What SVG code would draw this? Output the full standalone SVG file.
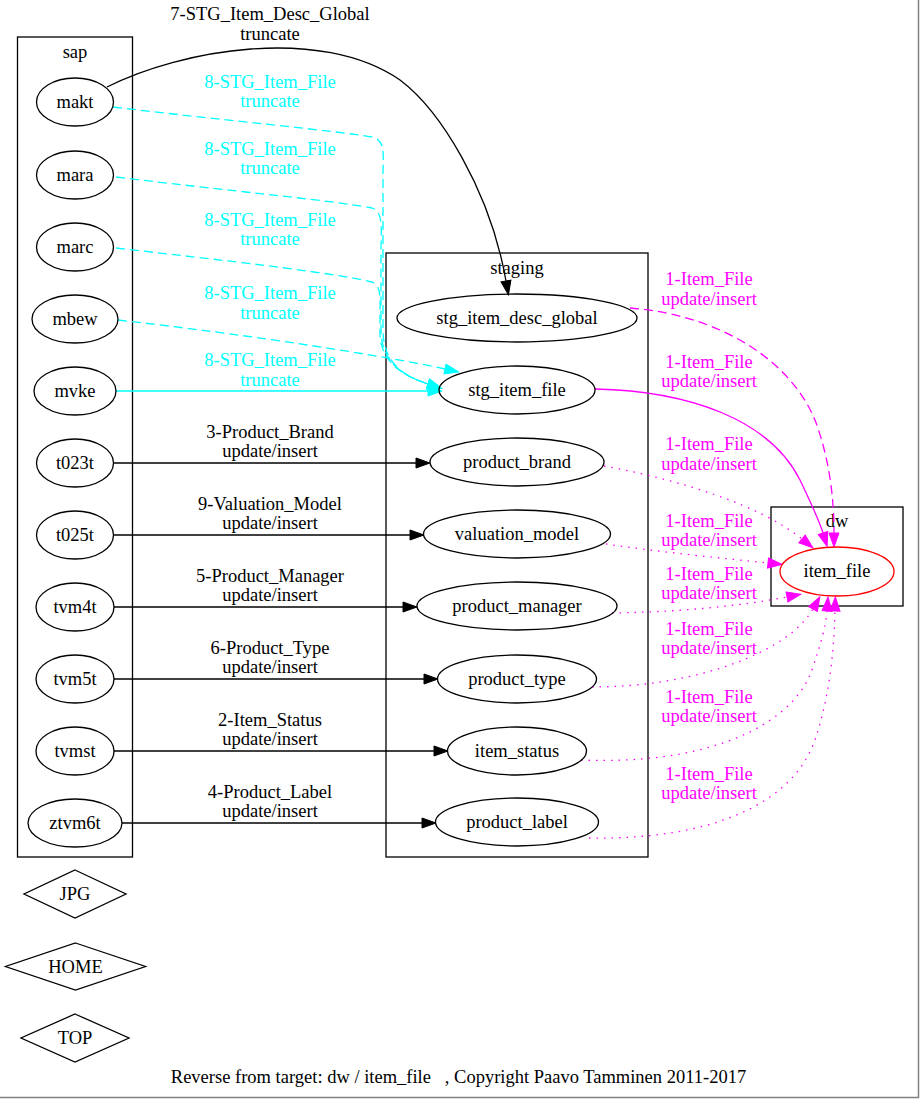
<svg xmlns="http://www.w3.org/2000/svg" width="920" height="1099" viewBox="0 0 920 1099">
<style>
text{font-family:"Liberation Serif","Times New Roman",serif;font-size:18.5px;text-anchor:middle;fill:#000}
.n{fill:none;stroke:#000;stroke-width:1.3}
.cl{fill:none;stroke:#000;stroke-width:1.3}
.e{fill:none;stroke-width:1.3}
.k{stroke:#000}
.c{stroke:#00ffff}
.m{stroke:#ff00ff}
.dash{stroke-dasharray:9,5}
.dot{stroke-dasharray:1.5,6}
.tc{fill:#00ffff}
.tm{fill:#ff00ff}
</style>
<defs>
<marker id="ak" markerUnits="userSpaceOnUse" markerWidth="14" markerHeight="10" refX="0" refY="5" orient="auto" viewBox="0 0 14 10" overflow="visible"><path d="M0,0 L14,5 L0,10 z" fill="#000" stroke="#000" stroke-width="1"/></marker>
<marker id="ac" markerUnits="userSpaceOnUse" markerWidth="14" markerHeight="10" refX="0" refY="5" orient="auto" viewBox="0 0 14 10" overflow="visible"><path d="M0,0 L14,5 L0,10 z" fill="#00ffff" stroke="#00ffff" stroke-width="1"/></marker>
<marker id="am" markerUnits="userSpaceOnUse" markerWidth="14" markerHeight="10" refX="0" refY="5" orient="auto" viewBox="0 0 14 10" overflow="visible"><path d="M0,0 L14,5 L0,10 z" fill="#ff00ff" stroke="#ff00ff" stroke-width="1"/></marker>
</defs>
<rect x="0" y="0" width="920" height="1099" fill="#fff"/>
<path d="M918.5,0 V1097.5 H0" fill="none" stroke="#808080" stroke-width="1.5"/>

<g id="cluster_sap">
<rect class="cl" x="17.5" y="37" width="115" height="820"/>
<text x="75" y="58">sap</text>
</g>
<g id="cluster_staging">
<rect class="cl" x="386" y="253" width="262" height="604"/>
<text x="517" y="274">staging</text>
</g>
<g id="cluster_dw">
<rect class="cl" x="771" y="507" width="132" height="99"/>
<text x="837" y="527">dw</text>
</g>

<g id="connectors">
<path class="e k" d="M107,87 C180,50 320,25 400,80 C440,110 490,190 506,281" marker-end="url(#ak)"/>
<path class="e c dash" d="M113,107 C220,120 330,130 372,137 C386,140 383,155 383,175 L383,330 C383,360 400,375 428,384" marker-end="url(#ac)"/>
<path class="e c dash" d="M116,177 C220,190 330,200 372,208 C384,212 381,230 381,250 L381,330 C381,360 400,375 428,384" marker-end="url(#ac)"/>
<path class="e c dash" d="M116,248 C220,260 330,272 372,282 C382,286 380,300 380,315 L380,335 C381,360 400,375 428,384" marker-end="url(#ac)"/>
<path class="e c dash" d="M118,320 C250,335 380,355 445,369" marker-end="url(#ac)"/>
<path class="e c" d="M116,391 L428,391" marker-end="url(#ac)"/>
<path class="e k" d="M113,463 L416,463" marker-end="url(#ak)"/>
<path class="e k" d="M113,535 L410,535" marker-end="url(#ak)"/>
<path class="e k" d="M114,607 L403,607" marker-end="url(#ak)"/>
<path class="e k" d="M114,679 L424,679" marker-end="url(#ak)"/>
<path class="e k" d="M114,751 L434,751" marker-end="url(#ak)"/>
<path class="e k" d="M122,823 L422,823" marker-end="url(#ak)"/>
<path class="e m dash" d="M630,308 C720,315 790,360 815,420 C830,460 834,500 834,533" marker-end="url(#am)"/>
<path class="e m" d="M595,389 C690,391 770,420 800,480 C812,505 819,520 823,533" marker-end="url(#am)"/>
<path class="e m dot" d="M604,466 C680,480 760,505 802,539" marker-end="url(#am)"/>
<path class="e m dot" d="M606,544 C660,552 720,558 768,563" marker-end="url(#am)"/>
<path class="e m dot" d="M612,613 C680,612 740,606 787,597" marker-end="url(#am)"/>
<path class="e m dot" d="M592,687 C700,687 790,650 813,609" marker-end="url(#am)"/>
<path class="e m dot" d="M581,760 C700,765 790,730 812,670 C822,640 826,625 827,611" marker-end="url(#am)"/>
<path class="e m dot" d="M589,838 C700,840 790,810 815,740 C830,695 834,650 835,611" marker-end="url(#am)"/>
<text x="270" y="20">7-STG_Item_Desc_Global</text>
<text x="270" y="40">truncate</text>
<text class="tc" x="270" y="88">8-STG_Item_File</text>
<text class="tc" x="270" y="107">truncate</text>
<text class="tc" x="270" y="155">8-STG_Item_File</text>
<text class="tc" x="270" y="174">truncate</text>
<text class="tc" x="270" y="226">8-STG_Item_File</text>
<text class="tc" x="270" y="245">truncate</text>
<text class="tc" x="270" y="299">8-STG_Item_File</text>
<text class="tc" x="270" y="319">truncate</text>
<text class="tc" x="270" y="366">8-STG_Item_File</text>
<text class="tc" x="270" y="386">truncate</text>
<text x="270" y="438">3-Product_Brand</text>
<text x="270" y="457">update/insert</text>
<text x="270" y="510">9-Valuation_Model</text>
<text x="270" y="529">update/insert</text>
<text x="270" y="582">5-Product_Manager</text>
<text x="270" y="601">update/insert</text>
<text x="270" y="654">6-Product_Type</text>
<text x="270" y="673">update/insert</text>
<text x="270" y="726">2-Item_Status</text>
<text x="270" y="745">update/insert</text>
<text x="270" y="798">4-Product_Label</text>
<text x="270" y="817">update/insert</text>
<text class="tm" x="709" y="285">1-Item_File</text>
<text class="tm" x="709" y="305">update/insert</text>
<text class="tm" x="709" y="368">1-Item_File</text>
<text class="tm" x="709" y="387">update/insert</text>
<text class="tm" x="709" y="450">1-Item_File</text>
<text class="tm" x="709" y="470">update/insert</text>
<text class="tm" x="709" y="527">1-Item_File</text>
<text class="tm" x="709" y="546">update/insert</text>
<text class="tm" x="709" y="580">1-Item_File</text>
<text class="tm" x="709" y="599">update/insert</text>
<text class="tm" x="709" y="635">1-Item_File</text>
<text class="tm" x="709" y="654">update/insert</text>
<text class="tm" x="709" y="703">1-Item_File</text>
<text class="tm" x="709" y="722">update/insert</text>
<text class="tm" x="709" y="780">1-Item_File</text>
<text class="tm" x="709" y="799">update/insert</text>
</g>

<g id="makt"><ellipse class="n" cx="75" cy="102" rx="38.5" ry="24"/><text x="75" y="108">makt</text></g>
<g id="mara"><ellipse class="n" cx="75" cy="175" rx="38.5" ry="24"/><text x="75" y="181">mara</text></g>
<g id="marc"><ellipse class="n" cx="75" cy="247" rx="38.5" ry="24"/><text x="75" y="253">marc</text></g>
<g id="mbew"><ellipse class="n" cx="75" cy="319" rx="43" ry="24"/><text x="75" y="325">mbew</text></g>
<g id="mvke"><ellipse class="n" cx="75" cy="391" rx="41" ry="24"/><text x="75" y="397">mvke</text></g>
<g id="t023t"><ellipse class="n" cx="75" cy="463" rx="38.5" ry="24"/><text x="75" y="469">t023t</text></g>
<g id="t025t"><ellipse class="n" cx="75" cy="535" rx="38.5" ry="24"/><text x="75" y="541">t025t</text></g>
<g id="tvm4t"><ellipse class="n" cx="75" cy="607" rx="39" ry="24"/><text x="75" y="613">tvm4t</text></g>
<g id="tvm5t"><ellipse class="n" cx="75" cy="679" rx="39" ry="24"/><text x="75" y="685">tvm5t</text></g>
<g id="tvmst"><ellipse class="n" cx="75" cy="751" rx="39" ry="24"/><text x="75" y="757">tvmst</text></g>
<g id="ztvm6t"><ellipse class="n" cx="75" cy="823" rx="47" ry="24"/><text x="75" y="829">ztvm6t</text></g>

<g id="stg_item_desc_global"><ellipse class="n" cx="517" cy="318" rx="120" ry="24"/><text x="517" y="324">stg_item_desc_global</text></g>
<g id="stg_item_file"><ellipse class="n" cx="517" cy="390" rx="78" ry="24"/><text x="517" y="396">stg_item_file</text></g>
<g id="product_brand"><ellipse class="n" cx="517" cy="462" rx="87" ry="24"/><text x="517" y="468">product_brand</text></g>
<g id="valuation_model"><ellipse class="n" cx="517" cy="534" rx="93.5" ry="24"/><text x="517" y="540">valuation_model</text></g>
<g id="product_manager"><ellipse class="n" cx="517" cy="606" rx="100" ry="24"/><text x="517" y="612">product_manager</text></g>
<g id="product_type"><ellipse class="n" cx="517" cy="679" rx="79.5" ry="24"/><text x="517" y="685">product_type</text></g>
<g id="item_status"><ellipse class="n" cx="517" cy="751" rx="69.5" ry="24"/><text x="517" y="757">item_status</text></g>
<g id="product_label"><ellipse class="n" cx="517" cy="822" rx="81.5" ry="24"/><text x="517" y="828">product_label</text></g>

<g id="item_file"><ellipse cx="837" cy="571.5" rx="57" ry="24.5" fill="none" stroke="#ff0000" stroke-width="1.3"/><text x="837" y="577">item_file</text></g>

<g id="JPG"><polygon class="n" points="75,870 126,894 75,918 24,894"/><text x="75" y="900">JPG</text></g>
<g id="HOME"><polygon class="n" points="75.5,943 145.5,966.5 75.5,990 5.5,966.5"/><text x="75.5" y="972.5">HOME</text></g>
<g id="TOP"><polygon class="n" points="75,1014 129,1038 75,1062 21,1038"/><text x="75" y="1044">TOP</text></g>

<text x="458.5" y="1083" xml:space="preserve">Reverse from target: dw / item_file   , Copyright Paavo Tamminen 2011-2017</text>
</svg>
